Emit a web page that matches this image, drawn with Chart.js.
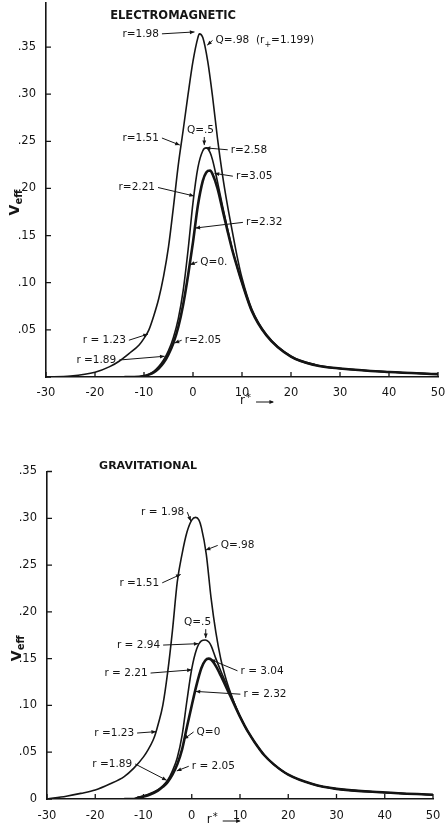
<!DOCTYPE html>
<html>
<head>
<meta charset="utf-8">
<script src="https://cdn.jsdelivr.net/npm/chart.js@4.4.0/dist/chart.umd.min.js"></script>
<style>
html, body { margin: 0; padding: 0; background: #fff; }
#wrap { position: relative; width: 448px; height: 826px; }
.box { position: absolute; left: 0; width: 448px; }
</style>
</head>
<body>
<div id="wrap">
  <div class="box" style="top:0;height:412px"><canvas id="em"></canvas></div>
  <div class="box" style="top:412px;height:414px"><canvas id="grav"></canvas></div>
</div>
<script>
const INK = '#151515';
const FONT = '"DejaVu Sans", sans-serif';

// --- electromagnetic panel ---
const emR98 = [-30,-25,-20,-17,-15,-13,-11,-10,-9,-8,-7,-6,-5,-4,-3,-2,-1,0,1,1.3,2,3,4,5,6,7,8,9,10,12,15,20,25,30,40,50];
const emV98 = [0,0.001,0.005,0.011,0.017,0.025,0.034,0.041,0.05,0.065,0.083,0.107,0.138,0.18,0.225,0.262,0.3,0.335,0.36,0.364,0.36,0.335,0.297,0.253,0.215,0.183,0.155,0.128,0.105,0.072,0.045,0.022,0.013,0.009,0.0055,0.003];
const emR = [-14,-12,-10,-9,-8,-7,-6,-5,-4,-3,-2,-1,0,1,2,2.7,3.5,4,5,6,7,8,9,10,12,15,20,25,30,40,50];
const emV5 = [0,0,0.001,0.003,0.006,0.011,0.018,0.028,0.042,0.062,0.092,0.135,0.185,0.222,0.24,0.243,0.238,0.23,0.207,0.182,0.158,0.136,0.117,0.1,0.07,0.044,0.0215,0.0125,0.009,0.0053,0.003];
const emV0 = [0,0,0.001,0.0025,0.005,0.009,0.015,0.024,0.036,0.053,0.077,0.108,0.143,0.182,0.208,0.217,0.219,0.215,0.2,0.178,0.156,0.135,0.117,0.1,0.07,0.044,0.0215,0.0125,0.009,0.0053,0.003];

// --- gravitational panel ---
const gvR98 = [-30,-26,-23,-20,-17,-14,-12,-10,-9,-8,-7.5,-7,-6,-5,-4,-3,-2,-1,0,0.8,1.5,2,3,4,5,6,7,8,9,10,11,12,13,15,17,20,25,30,40,50];
const gvV98 = [0,0.003,0.006,0.0096,0.016,0.024,0.033,0.045,0.053,0.063,0.07,0.079,0.1,0.135,0.18,0.232,0.262,0.285,0.298,0.301,0.298,0.29,0.262,0.215,0.178,0.15,0.13,0.114,0.1,0.088,0.078,0.069,0.061,0.047,0.037,0.026,0.016,0.0108,0.007,0.0045];
const gvR = [-14,-12,-11,-9,-7,-6,-5,-4,-3,-2,-1,0,1,2,2.8,3.5,4,5,6,7,8,9,10,11,12,13,15,17,20,25,30,40,50];
const gvV5 = [0,0,0.002,0.005,0.01,0.014,0.02,0.03,0.044,0.068,0.105,0.139,0.16,0.169,0.17,0.168,0.164,0.15,0.137,0.125,0.113,0.1,0.088,0.078,0.069,0.061,0.047,0.037,0.026,0.016,0.0108,0.007,0.0045];
const gvV0 = [0,0,0.0015,0.004,0.009,0.013,0.018,0.026,0.037,0.053,0.077,0.1,0.122,0.14,0.148,0.15,0.149,0.142,0.132,0.121,0.11,0.099,0.088,0.078,0.069,0.061,0.047,0.037,0.026,0.016,0.0108,0.007,0.0045];

// tick values
const xTicks = [-30,-20,-10,0,10,20,30,40,50];
const emYTicks = [0,0.05,0.10,0.15,0.20,0.25,0.30,0.35];
const gvYTicks = [0,0.05,0.10,0.15,0.20,0.25,0.30,0.35];

// labels: text, r*, V of text, r*, V of arrow tip
const emNotes = [
  ['r=1.98', -14.4, 0.364, 0.3, 0.366],
  [['Q=.98  (r', false, '+', true, '=1.199)', false], 4.6, 0.357, 2.9, 0.352],
  ['r=1.51', -14.4, 0.2535, -2.7, 0.246],
  ['Q=.5', -1.25, 0.262, 2.3, 0.246],
  ['r=2.58', 7.7, 0.241, 2.6, 0.243],
  ['r=3.05', 8.75, 0.213, 4.4, 0.216],
  ['r=2.21', -15.2, 0.201, 0.2, 0.192],
  ['r=2.32', 10.8, 0.164, 0.5, 0.158],
  ['Q=0.', 1.5, 0.122, -0.6, 0.119],
  ['r = 1.23', -22.5, 0.039, -9.2, 0.0455],
  ['r =1.89', -23.8, 0.018, -5.8, 0.022],
  ['r=2.05', -1.7, 0.039, -3.75, 0.036]
];
const gvNotes = [
  ['r = 1.98', -10.5, 0.3066, -0.2, 0.297],
  ['Q=.98', 6, 0.271, 2.9, 0.266],
  ['r =1.51', -15, 0.231, -2.3, 0.24],
  ['Q=.5', -1.6, 0.189, 2.9, 0.172],
  ['r = 2.94', -15.5, 0.1645, 1.4, 0.166],
  ['r = 2.21', -18.1, 0.1346, 0, 0.138],
  ['r = 3.04', 10.1, 0.137, 3.9, 0.149],
  ['r = 2.32', 10.7, 0.112, 0.8, 0.115],
  ['r =1.23', -20.2, 0.0705, -7.4, 0.072],
  ['Q=0', 1, 0.0716, -1.65, 0.064],
  ['r =1.89', -20.6, 0.0374, -5.2, 0.02],
  ['r = 2.05', 0, 0.035, -3.1, 0.03]
];

function fmtV(v) {
  if (v === 0) return '0';
  return '.' + String(Math.round(v * 100)).padStart(2, '0');
}

function drawParts(ctx, parts, x, y) {
  // parts: [str, sub, str, sub, ...]
  let cx = x;
  for (let i = 0; i < parts.length; i += 2) {
    const sub = parts[i + 1];
    ctx.font = (sub ? '8px ' : '10.5px ') + FONT;
    ctx.fillText(parts[i], cx, sub ? y + 4 : y);
    cx += ctx.measureText(parts[i]).width;
  }
  return cx - x;
}

function arrowHead(ctx, x0, y0, x1, y1) {
  const a = Math.atan2(y1 - y0, x1 - x0), s = 5;
  ctx.beginPath();
  ctx.moveTo(x1, y1);
  ctx.lineTo(x1 - s * Math.cos(a - 0.4), y1 - s * Math.sin(a - 0.4));
  ctx.lineTo(x1 - s * Math.cos(a + 0.4), y1 - s * Math.sin(a + 0.4));
  ctx.closePath();
  ctx.fill();
}

function inkPlugin(cfg) {
  return {
    id: 'ink',
    afterDraw(chart) {
      const ctx = chart.ctx;
      const { x, y } = chart.scales;
      ctx.save();
      ctx.strokeStyle = INK;
      ctx.fillStyle = INK;

      // inward tick marks
      ctx.lineWidth = 1.3;
      ctx.beginPath();
      x.ticks.forEach(t => {
        const px = x.getPixelForValue(t.value);
        ctx.moveTo(px, y.bottom);
        ctx.lineTo(px, y.bottom - 5);
      });
      y.ticks.forEach(t => {
        const py = y.getPixelForValue(t.value);
        ctx.moveTo(x.left, py);
        ctx.lineTo(x.left + 5, py);
      });
      ctx.stroke();

      // panel title
      ctx.font = 'bold ' + cfg.titleSize + 'px ' + FONT;
      ctx.textBaseline = 'middle';
      ctx.textAlign = 'left';
      ctx.fillText(cfg.title, x.getPixelForValue(cfg.titleR), y.getPixelForValue(cfg.titleV));

      // curve labels with arrows
      ctx.lineWidth = 1;
      cfg.notes.forEach(n => {
        const tx = x.getPixelForValue(n[1]), ty = y.getPixelForValue(n[2]);
        const parts = Array.isArray(n[0]) ? n[0] : [n[0], false];
        const w = drawParts(ctx, parts, tx, ty);
        const px = x.getPixelForValue(n[3]), py = y.getPixelForValue(n[4]);
        let sx, sy;
        if (px > tx + w + 2) { sx = tx + w + 3; sy = ty; }
        else if (px < tx - 2) { sx = tx - 3; sy = ty; }
        else { sx = px; sy = ty + 7; }
        ctx.beginPath();
        ctx.moveTo(sx, sy);
        ctx.lineTo(px, py);
        ctx.stroke();
        arrowHead(ctx, sx, sy, px, py);
      });

      // y axis title V_eff
      ctx.save();
      ctx.translate(cfg.vX, y.getPixelForValue(cfg.vLabelV));
      ctx.rotate(-Math.PI / 2);
      ctx.textAlign = 'left';
      ctx.textBaseline = 'alphabetic';
      ctx.font = 'bold 14px ' + FONT;
      const vw = ctx.measureText('V').width;
      ctx.font = 'bold 10px ' + FONT;
      const fw = ctx.measureText('eff').width;
      const start = -(vw + fw) / 2;
      ctx.font = 'bold 14px ' + FONT;
      ctx.fillText('V', start, 5);
      ctx.font = 'bold 10px ' + FONT;
      ctx.fillText('eff', start + vw, 8);
      ctx.restore();

      // x axis title r* ->
      const rx = x.getPixelForValue(cfg.rLabelR), ry = y.bottom + cfg.rLabelDy;
      ctx.font = '12px ' + FONT;
      ctx.textBaseline = 'middle';
      ctx.fillText('r', rx, ry);
      ctx.font = '10px ' + FONT;
      ctx.fillText('*', rx + 6, ry - 3);
      ctx.lineWidth = 1;
      ctx.beginPath();
      ctx.moveTo(rx + 16, ry + 1);
      ctx.lineTo(rx + 33, ry + 1);
      ctx.stroke();
      arrowHead(ctx, rx + 16, ry + 1, rx + 34, ry + 1);

      ctx.restore();
    }
  };
}

function makeChart(id, cfg) {
  const pts = (rs, vs) => rs.map((r, i) => ({ x: r, y: vs[i] }));
  const sets = [
    { data: pts(cfg.r98, cfg.v98), borderWidth: 1.6 },
    { data: pts(cfg.r, cfg.v5), borderWidth: 1.6 },
    { data: pts(cfg.r, cfg.v0), borderWidth: 2.6 }
  ].map(d => Object.assign(d, {
    borderColor: INK, pointRadius: 0, fill: false, cubicInterpolationMode: 'monotone'
  }));
  const zeroPad = s => { s.paddingTop = 0; s.paddingBottom = 0; s.paddingLeft = 0; s.paddingRight = 0; };
  return new Chart(document.getElementById(id), {
    type: 'line',
    data: { datasets: sets },
    options: {
      animation: false, responsive: true, maintainAspectRatio: false, events: [],
      layout: { padding: cfg.pad },
      plugins: { legend: { display: false }, tooltip: { enabled: false } },
      scales: {
        x: {
          type: 'linear', min: -30, max: 50,
          grid: { display: false },
          border: { color: INK, width: 1.6 },
          afterBuildTicks: s => { s.ticks = xTicks.map(v => ({ value: v })); },
          afterFit: s => { s.height = cfg.xh; zeroPad(s); },
          ticks: { color: INK, font: { family: FONT, size: 11.5 }, padding: cfg.xpad, maxRotation: 0, autoSkip: false,
                   callback: v => String(v) }
        },
        y: {
          type: 'linear', min: 0, max: cfg.ymax,
          grid: { display: false },
          border: { color: INK, width: 1.6 },
          afterBuildTicks: s => { s.ticks = cfg.yTicks.map(v => ({ value: v })); },
          afterFit: s => { s.width = cfg.yw; zeroPad(s); },
          ticks: { color: INK, font: { family: FONT, size: 11.5 }, padding: 2, autoSkip: false,
                   callback: v => (v === 0 && !cfg.showZero) ? '' : fmtV(v) }
        }
      }
    },
    plugins: [inkPlugin(cfg)]
  });
}

makeChart('em', {
  r98: emR98, v98: emV98, r: emR, v5: emV5, v0: emV0,
  yTicks: emYTicks, ymax: 0.3967, showZero: false,
  pad: { top: 3, right: 10, left: 0, bottom: 0 }, yw: 46, xh: 35, xpad: 1,
  notes: emNotes, title: 'ELECTROMAGNETIC', titleR: -16.9, titleV: 0.383, titleSize: 11.5,
  vX: 14, vLabelV: 0.185, rLabelR: 9.6, rLabelDy: 24
});

makeChart('grav', {
  r98: gvR98, v98: gvV98, r: gvR, v5: gvV5, v0: gvV0,
  yTicks: gvYTicks, ymax: 0.35, showZero: true,
  pad: { top: 59.5, right: 15, left: 0, bottom: 0 }, yw: 47, xh: 27, xpad: 2,
  notes: gvNotes, title: 'GRAVITATIONAL', titleR: -19.2, titleV: 0.356, titleSize: 11,
  vX: 16, vLabelV: 0.161, rLabelR: 3.1, rLabelDy: 21
});
</script>
</body>
</html>
